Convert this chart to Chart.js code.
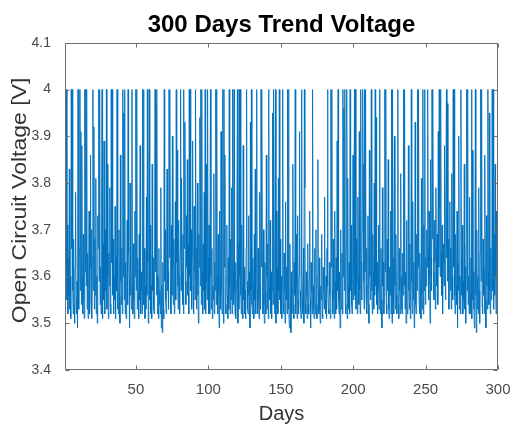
<!DOCTYPE html>
<html>
<head>
<meta charset="utf-8">
<script src="https://cdn.jsdelivr.net/npm/chart.js@4.4.1/dist/chart.umd.min.js"></script>
<style>
  html, body { margin: 0; padding: 0; background: #ffffff; }
  #wrap { width: 512px; height: 424px; }
</style>
</head>
<body>
<div id="wrap"><canvas id="chart" width="512" height="424"></canvas></div>
<script>
// Open circuit voltage readings [V], three per day over days 1..300
const voltage = [
  3.58,4.00,3.62,4.00,3.55,3.71,3.52,3.64,3.56,3.83, 3.53,3.60,3.51,4.00,3.66,4.00,3.57,3.52,3.68,3.54,
  3.50,3.62,3.78,3.55,3.52,3.59,3.49,4.00,3.63,3.53, 3.66,4.00,3.57,3.91,3.54,3.88,3.60,3.52,3.69,3.55,
  3.51,4.00,3.61,4.00,3.58,4.00,3.53,3.65,3.51,3.57,
  3.74,3.52,3.62,3.86,3.55,3.70,3.51,3.64,4.00,3.57, 3.92,3.53,3.68,3.56,3.81,3.52,3.60,3.50,3.73,3.66,
  4.00,3.59,4.00,3.54,3.62,3.52,3.77,4.00,3.51,3.67, 3.55,3.89,3.61,3.52,3.70,3.57,4.00,3.53,3.84,3.60,
  3.51,3.65,3.58,3.79,3.54,3.52,4.00,3.63,4.00,3.56,
  3.68,3.52,3.60,3.55,3.75,3.51,3.64,3.57,4.00,3.53, 3.61,3.52,3.70,3.56,3.50,3.86,3.59,3.54,3.66,3.52,
  4.00,3.60,3.95,3.55,4.00,3.52,3.63,3.51,3.57,3.72, 3.54,4.00,3.65,3.59,3.49,3.80,3.56,3.62,3.53,4.00,
  3.58,3.52,3.67,3.55,3.51,3.74,3.60,4.00,3.57,4.00,
  3.53,3.64,3.56,3.51,3.69,3.55,3.88,3.52,3.61,3.57, 3.52,4.00,3.59,4.00,3.54,3.66,3.51,3.58,3.53,3.77,
  3.56,4.00,3.63,3.50,3.60,4.00,3.55,3.71,3.52,3.58, 3.51,3.84,3.57,3.64,3.53,3.52,3.69,4.00,3.61,3.97,
  3.56,4.00,3.52,3.60,3.51,3.66,3.54,3.57,3.52,3.79,
  3.49,3.58,3.48,3.63,3.53,3.51,4.00,3.59,3.70,3.55, 3.52,3.66,3.83,3.57,3.61,3.53,4.00,3.64,4.00,3.58,
  3.52,3.71,3.56,3.90,3.62,3.54,3.68,3.52,3.59,3.76, 3.55,4.00,3.63,3.87,3.58,3.53,3.72,3.60,3.52,3.65,
  4.00,3.57,3.81,3.61,3.54,3.69,3.52,4.00,3.66,3.93,
  3.59,3.54,3.73,3.62,3.85,3.56,3.67,3.52,4.00,3.60, 4.00,3.57,3.70,3.53,3.64,3.89,3.58,3.52,3.75,3.61,
  3.55,4.00,3.66,3.53,3.59,3.80,3.56,3.50,3.69,3.62, 3.94,3.58,4.00,3.54,4.00,3.61,3.52,3.67,3.57,3.78,
  3.53,4.00,3.52,3.84,3.59,3.55,4.00,3.64,3.52,3.71,
  3.57,3.52,4.00,3.60,3.53,3.66,3.51,3.58,3.55,3.82, 3.52,3.63,3.57,4.00,3.54,4.00,3.60,3.52,3.69,3.56,
  3.49,3.74,3.59,3.53,3.91,3.57,3.52,3.65,4.00,3.50, 4.00,3.62,3.86,3.54,3.52,3.60,3.71,3.56,3.51,3.64,
  3.53,4.00,3.58,3.52,3.68,3.55,3.79,3.52,4.00,3.61,
  3.54,4.00,3.57,3.52,3.63,3.51,3.59,3.76,4.00,3.50, 3.67,3.53,4.00,3.60,4.00,3.56,3.52,3.71,3.58,3.51,
  3.88,3.55,3.62,3.52,3.57,3.51,3.66,4.00,3.59,3.53, 3.52,3.73,3.56,3.61,3.49,3.93,3.57,4.00,3.54,3.52,
  3.64,3.58,3.51,3.69,3.55,3.83,3.52,3.60,4.00,3.57,
  3.52,3.66,3.55,3.51,3.78,3.58,3.53,4.00,3.62,4.00, 3.56,3.52,3.70,3.54,3.50,3.63,3.57,3.52,3.86,3.60,
  3.53,3.67,3.51,4.00,3.58,3.55,3.72,3.52,3.61,3.51, 3.57,3.95,3.54,4.00,3.59,3.52,3.65,4.00,3.50,3.74,
  3.53,3.62,3.52,3.81,3.57,4.00,3.55,3.68,3.52,3.60,
  3.51,3.58,4.00,3.54,3.52,3.65,3.57,3.50,3.76,3.55, 3.62,3.52,4.00,3.59,4.00,3.53,3.49,3.67,3.55,3.48,
  3.61,3.52,3.57,3.84,3.54,3.51,3.63,3.56,4.00,3.52, 3.69,3.58,3.51,3.73,3.55,3.52,3.60,3.91,3.57,3.53,
  3.51,4.00,3.62,3.55,3.52,3.66,3.50,4.00,3.79,3.54,
  3.52,3.61,3.56,3.51,3.67,3.54,3.52,3.59,3.74,3.55, 3.49,3.63,3.57,3.52,4.00,3.58,3.53,3.51,3.66,3.56,
  3.52,3.70,3.54,3.51,3.60,3.85,3.57,3.52,3.64,3.53, 3.50,3.58,3.55,3.69,3.52,3.51,3.62,3.57,3.53,3.77,
  3.55,3.52,3.60,3.51,3.66,4.00,3.58,3.53,3.52,3.63,
  3.56,3.51,4.00,3.62,4.00,3.57,3.52,3.68,3.55,3.51, 3.74,3.59,3.52,3.64,3.53,3.89,3.57,4.00,3.55,3.52,
  3.61,3.49,3.70,3.56,3.53,3.65,3.52,4.00,3.60,3.96, 3.57,4.00,3.54,3.52,3.67,4.00,3.51,3.81,3.58,3.53,
  3.63,3.52,4.00,3.57,3.71,3.54,3.52,3.60,3.86,3.55,
  3.62,4.00,3.56,4.00,3.53,3.68,3.58,3.52,3.77,3.60, 3.54,3.91,3.57,3.52,4.00,3.63,3.55,3.70,4.00,3.84,
  3.59,3.53,4.00,3.61,4.00,3.56,3.66,3.52,3.58,3.73, 3.54,3.50,3.87,3.60,3.55,3.65,4.00,3.57,3.52,3.69,
  3.61,3.53,3.80,3.56,4.00,3.58,3.94,3.54,3.63,3.52,
  3.57,3.71,3.53,4.00,3.60,3.52,3.66,3.55,3.49,3.79, 3.58,3.63,3.52,3.56,4.00,3.61,4.00,3.54,3.52,3.68,
  3.57,3.85,3.53,3.51,3.62,3.56,3.74,3.52,4.00,3.50, 4.00,3.55,3.64,3.52,3.90,3.58,3.53,3.69,3.56,3.52,
  3.61,4.00,3.54,3.51,3.66,3.57,3.52,3.82,3.60,3.53,
  3.52,3.65,3.56,4.00,3.58,4.00,3.53,3.61,3.50,3.72, 3.55,3.52,3.60,3.88,3.57,3.53,3.67,3.51,3.56,4.00,
  3.59,3.52,3.76,3.55,3.63,3.49,3.58,3.93,3.54,3.52, 3.69,3.57,4.00,3.62,4.00,3.55,3.52,3.65,3.58,3.51,
  3.81,3.56,3.53,4.00,3.52,3.71,3.57,4.00,3.54,3.64,
  3.58,3.70,3.62,4.00,3.66,3.55,3.74,3.60,3.50,3.85, 3.64,3.57,4.00,3.68,4.00,3.61,3.55,3.72,3.63,3.53,
  3.79,3.66,3.58,3.69,3.54,3.91,3.62,4.00,3.75,3.60, 4.00,3.65,3.56,3.71,3.52,3.63,3.67,3.58,3.88,3.61,
  3.55,3.73,4.00,3.64,3.97,3.59,3.68,3.53,3.62,3.76,
  3.57,3.66,3.53,3.82,3.60,3.55,4.00,3.62,4.00,3.56, 3.52,3.69,3.58,3.54,3.74,3.49,3.63,3.57,3.90,3.53,
  3.60,3.52,4.00,3.65,3.56,3.71,3.52,3.59,3.55,3.84, 3.53,3.62,3.50,3.67,4.00,3.57,4.00,3.54,3.60,3.52,
  3.77,3.56,3.52,3.64,4.00,3.51,3.87,3.55,3.61,3.53,
  3.49,3.63,4.00,3.56,3.48,3.70,3.53,3.60,3.52,3.79, 3.57,3.50,3.65,4.00,3.59,4.00,3.54,3.52,3.68,3.56,
  3.62,3.52,3.86,3.55,3.49,3.73,3.58,3.53,4.00,3.61, 3.54,3.95,3.57,3.52,3.66,3.55,3.60,4.00,3.57,4.00,
  3.53,3.69,3.56,3.84,3.60,3.52,3.74,3.58,3.63,3.57
];

const firstDay = 1;
const lastDay = 300;
const xTickDays = [50, 100, 150, 200, 250, 300];
const yTickVolts = [3.4, 3.5, 3.6, 3.7, 3.8, 3.9, 4.0, 4.1];
const yAxisTitle = 'Open Circuit Voltage [V]';

// readings are evenly spaced in time between the first and last day
const sampleDays = voltage.map((_, i) => firstDay + i * (lastDay - firstDay) / (voltage.length - 1));
const points = voltage.map((v, i) => ({ x: sampleDays[i], y: v }));

const FONT = "'Liberation Sans', Arial, Helvetica, sans-serif";

// box around the axes with inward tick marks on all four sides,
// plus the rotated y-axis title (drawn slightly elongated)
const boxAxes = {
  id: 'boxAxes',
  afterDraw(chart) {
    const { ctx, chartArea: a, scales: { x, y } } = chart;
    const len = 4;
    ctx.save();
    ctx.strokeStyle = '#6e6e6e';
    ctx.lineWidth = 1;
    const L = Math.round(a.left) + 0.5, R = Math.round(a.right) - 0.5;
    const T = Math.round(a.top) + 0.5, B = Math.round(a.bottom) - 0.5;
    ctx.beginPath();
    ctx.rect(L, T, R - L, B - T);
    xTickDays.forEach(d => {
      const px = Math.round(x.getPixelForValue(d)) + 0.5;
      ctx.moveTo(px, B); ctx.lineTo(px, B - len);
      ctx.moveTo(px, T); ctx.lineTo(px, T + len);
    });
    yTickVolts.forEach(v => {
      const py = Math.round(y.getPixelForValue(v)) + 0.5;
      ctx.moveTo(L, py); ctx.lineTo(L + len, py);
      ctx.moveTo(R, py); ctx.lineTo(R - len, py);
    });
    ctx.stroke();

    ctx.translate(20, (a.top + a.bottom) / 2 - 6);
    ctx.rotate(-Math.PI / 2);
    ctx.scale(1.15, 1);
    ctx.fillStyle = '#333333';
    ctx.font = '20px ' + FONT;
    ctx.textAlign = 'center';
    ctx.textBaseline = 'middle';
    ctx.fillText(yAxisTitle, 0, 0);
    ctx.restore();
  }
};

new Chart(document.getElementById('chart'), {
  type: 'line',
  data: {
    datasets: [{
      data: points,
      borderColor: '#0072BD',
      borderWidth: 0.9,
      pointRadius: 0,
      tension: 0,
      fill: false
    }]
  },
  options: {
    responsive: false,
    animation: false,
    events: [],
    layout: { padding: { left: 0, right: 14, top: 0, bottom: 0 } },
    plugins: {
      legend: { display: false },
      tooltip: { enabled: false },
      title: {
        display: true,
        text: '300 Days Trend Voltage',
        color: '#000000',
        fullSize: false,
        font: { family: FONT, size: 24, weight: 'bold' },
        padding: { top: 11, bottom: 3 }
      }
    },
    scales: {
      x: {
        type: 'linear',
        min: firstDay,
        max: lastDay,
        afterBuildTicks: s => { s.ticks = xTickDays.map(v => ({ value: v })); },
        afterFit: s => { s.height = 54; s.paddingLeft = 0; s.paddingRight = 0; },
        grid: { display: false, drawTicks: false },
        border: { display: false },
        ticks: {
          color: '#4a4a4a',
          font: { family: FONT, size: 15 },
          padding: 11,
          maxRotation: 0,
          callback: v => String(v)
        },
        title: {
          display: true,
          text: 'Days',
          color: '#333333',
          font: { family: FONT, size: 20 },
          padding: { top: 0, bottom: -2 }
        }
      },
      y: {
        min: 3.4,
        max: 4.1,
        afterBuildTicks: s => { s.ticks = yTickVolts.map(v => ({ value: v })); },
        afterFit: s => { s.width = 65; s.paddingTop = 0; s.paddingBottom = 0; },
        grid: { display: false, drawTicks: false },
        border: { display: false },
        ticks: {
          color: '#4a4a4a',
          font: { family: FONT, size: 14 },
          padding: 14,
          callback: v => String(Number(v.toFixed(1)))
        },
        title: { display: false }
      }
    }
  },
  plugins: [boxAxes]
});
</script>
</body>
</html>
